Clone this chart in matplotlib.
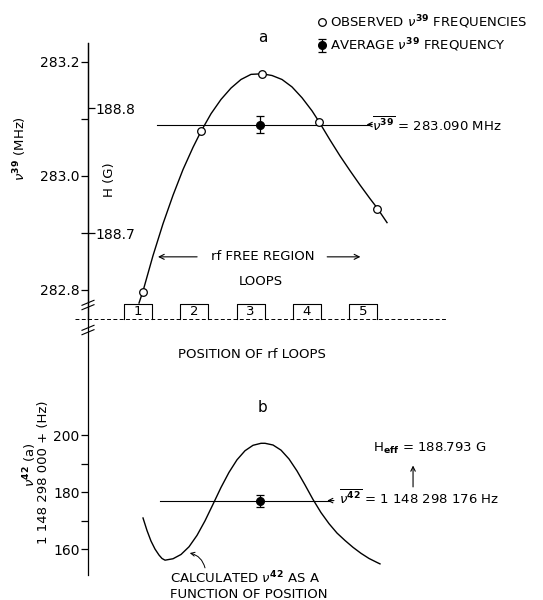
import matplotlib

matplotlib.use("Agg")
import matplotlib.pyplot as plt

plt.rcParams["font.family"] = ["DejaVu Sans"]
plt.rcParams["mathtext.fontset"] = "dejavusans"

# ---- data (position in loop-spacing units, loop n at x = n) ----
loop_pos = [1, 2, 3, 4, 5]
loop_labels = ["1", "2", "3", "4", "5"]

# panel a: observed nu39 (MHz)
obs_x = [1.09, 2.12, 3.20, 4.22, 5.25]
obs_nu39 = [282.796, 283.079, 283.179, 283.095, 282.942]
avg_x = 3.17
avg_nu39 = 283.090
avg_nu39_err = 0.015

# smooth curve through observed points
curve_a_x = [1.018, 1.089, 1.266, 1.444, 1.622, 1.799, 1.977, 2.119, 2.297,
             2.474, 2.652, 2.829, 3.007, 3.202, 3.380, 3.558, 3.735, 3.913,
             4.091, 4.215, 4.410, 4.588, 4.766, 4.943, 5.121, 5.245, 5.423]
curve_a_y = [282.777, 282.798, 282.860, 282.916, 282.966, 283.011, 283.050,
             283.078, 283.109, 283.134, 283.154, 283.169, 283.178, 283.179,
             283.176, 283.169, 283.156, 283.137, 283.114, 283.095, 283.063,
             283.035, 283.009, 282.984, 282.960, 282.944, 282.918]

# panel b: calculated nu42 (Hz, offset from 1 148 298 000)
curve_b_x = [1.089, 1.160, 1.231, 1.302, 1.373, 1.426, 1.480, 1.622, 1.764,
             1.906, 2.048, 2.190, 2.332, 2.474, 2.616, 2.758, 2.901, 3.043,
             3.185, 3.256, 3.398, 3.540, 3.682, 3.824, 3.966, 4.108, 4.250,
             4.393, 4.535, 4.677, 4.819, 4.961, 5.103, 5.245, 5.298]
curve_b_y = [170.9, 166.5, 162.8, 160.0, 157.9, 156.7, 156.1, 156.6, 158.1,
             160.8, 164.8, 169.9, 175.7, 181.6, 186.9, 191.3, 194.5, 196.4,
             197.1, 197.1, 196.5, 194.7, 191.6, 187.4, 182.5, 177.4, 172.8,
             168.9, 165.6, 163.0, 160.6, 158.5, 156.7, 155.3, 154.8]
avg_nu42 = 177.0
avg_nu42_err = 2.1

# H axis calibration (G) against nu39 (MHz)
h_ticks = [188.7, 188.8]
h_tick_nu = [282.8995, 283.1188]

# ---- figure ----
W, H = 543, 600
fig = plt.figure(figsize=(W / 100, H / 100), dpi=100)
x_lim = (0.112, 6.719)
ax_a = fig.add_axes([88 / W, 1 - 319 / H, 372 / W, 276 / H])
ax_b = fig.add_axes([88 / W, 1 - 575 / H, 372 / W, 256 / H])

for ax in (ax_a, ax_b):
    ax.set_xlim(*x_lim)
    for s in ("top", "right", "bottom"):
        ax.spines[s].set_visible(False)
    ax.spines["left"].set_linewidth(0.9)
    ax.set_xticks([])
    ax.tick_params(axis="y", which="both", direction="out", length=5,
                   width=0.9, pad=1, labelsize=10)
    ax.patch.set_alpha(0)

lw = 1.0
fs = 9.5

# panel a
ax_a.set_ylim(282.749, 283.233)
ax_a.set_yticks([282.8, 283.0, 283.2])
ax_a.set_yticklabels(["282.8", "283.0", "283.2"])
ax_a.set_yticks([282.9, 283.1], minor=True)
ax_a.plot(curve_a_x, curve_a_y, color="black", lw=lw)
obs_line, = ax_a.plot(obs_x, obs_nu39, "o", ms=5.5, mfc="white", mec="black",
                      mew=0.9, zorder=4, label=r"OBSERVED $\nu^{\mathbf{39}}$ FREQUENCIES")
avg_cont = ax_a.errorbar([avg_x], [avg_nu39], yerr=[avg_nu39_err], fmt="o", ms=5.5,
                         color="black", capsize=3, elinewidth=0.9, capthick=0.9,
                         zorder=5, label=r"AVERAGE $\nu^{\mathbf{39}}$ FREQUENCY")
ax_a.plot([1.337, 5.10], [avg_nu39, avg_nu39], color="black", lw=0.8)
ax_a.annotate("", xy=(5.06, avg_nu39), xytext=(5.16, avg_nu39),
              arrowprops=dict(arrowstyle="->", lw=0.8, color="black",
                              shrinkA=0, shrinkB=0, mutation_scale=8))
ax_a.text(5.16, avg_nu39, r"$\overline{\nu^{\mathbf{39}}}$ = 283.090 MHz",
          fontsize=fs, va="center", ha="left")

# secondary H axis drawn on the same spine, ticks pointing right
ax_h = ax_a.twinx()
b_h = (h_ticks[1] - h_ticks[0]) / (h_tick_nu[1] - h_tick_nu[0])
lo, hi = ax_a.get_ylim()
ax_h.set_ylim(h_ticks[1] + (lo - h_tick_nu[1]) * b_h,
              h_ticks[1] + (hi - h_tick_nu[1]) * b_h)
ax_h.spines["right"].set_position(("axes", 0))
for s in ("top", "left", "bottom"):
    ax_h.spines[s].set_visible(False)
ax_h.spines["right"].set_linewidth(0.9)
ax_h.set_yticks(h_ticks)
ax_h.set_yticklabels(["188.7", "188.8"])
ax_h.tick_params(axis="y", direction="out", length=5, width=0.9, pad=0,
                 labelsize=10)
ax_h.set_xlim(*x_lim)
ax_a.text((109 - 88) / 372, (319 - 180) / 276, "H (G)", transform=ax_a.transAxes,
          rotation=90, ha="center", va="center", fontsize=fs)

# loops on the dashed baseline
ax_a.plot([-0.12, 6.49], [282.749, 282.749], color="black", lw=0.7,
          ls=(0, (4, 2.5)), clip_on=False)
box_top = 282.7755
for p, lab in zip(loop_pos, loop_labels):
    ax_a.plot([p - 0.25, p - 0.25, p + 0.25, p + 0.25],
              [282.749, box_top, box_top, 282.749], color="black", lw=0.8,
              clip_on=False)
    ax_a.text(p, 282.762, lab, ha="center", va="center", fontsize=9.5)

ax_a.text(3.22, 282.858, "rf FREE REGION", ha="center", va="center", fontsize=fs)
ax_a.annotate("", xy=(1.355, 282.858), xytext=(2.05, 282.858),
              arrowprops=dict(arrowstyle="->", lw=0.8, color="black",
                              shrinkA=0, shrinkB=0, mutation_scale=9))
ax_a.annotate("", xy=(4.95, 282.858), xytext=(4.36, 282.858),
              arrowprops=dict(arrowstyle="->", lw=0.8, color="black",
                              shrinkA=0, shrinkB=0, mutation_scale=9))
ax_a.text(3.19, 282.814, "LOOPS", ha="center", va="center", fontsize=fs)
ax_a.text(3.22, 283.242, "a", ha="center", va="center", fontsize=11,
          clip_on=False)
fig.text(20 / W, 1 - 149 / H, r"$\nu^{\mathbf{39}}$ (MHz)", rotation=90,
         ha="center", va="center", fontsize=fs)

# axis break marks
for yc in (305, 330):
    for dy in (-2.2, 2.2):
        y0 = (319 - yc - dy) / 276
        ax_a.plot([-6 / 372, 6 / 372], [y0 - 2.5 / 276, y0 + 2.5 / 276],
                  transform=ax_a.transAxes, color="black", lw=0.8, clip_on=False)

leg = ax_a.legend(handles=[obs_line, avg_cont], loc="upper left",
                  bbox_to_anchor=(318 / W, 1 - 13 / H),
                  bbox_transform=fig.transFigure, frameon=False, fontsize=fs,
                  handlelength=0.6, handletextpad=0.3, labelspacing=0.45,
                  borderpad=0, borderaxespad=0)

# panel b
ax_b.set_ylim(150.9, 240.7)
ax_b.set_yticks([160, 180, 200])
ax_b.set_yticks([170, 190], minor=True)
ax_b.plot(curve_b_x, curve_b_y, color="black", lw=lw)
ax_b.errorbar([avg_x], [avg_nu42], yerr=[avg_nu42_err], fmt="o", ms=5.5,
              color="black", capsize=3, elinewidth=0.9, capthick=0.9, zorder=5)
ax_b.plot([1.39, 4.40], [avg_nu42, avg_nu42], color="black", lw=0.8)
ax_b.annotate("", xy=(4.36, avg_nu42), xytext=(4.48, avg_nu42),
              arrowprops=dict(arrowstyle="->", lw=0.8, color="black",
                              shrinkA=0, shrinkB=0, mutation_scale=8))
ax_b.text(4.57, avg_nu42 + 1.0, r"$\overline{\nu^{\mathbf{42}}}$ = 1 148 298 176 Hz",
          fontsize=fs, va="center", ha="left")
ax_b.text(5.17, 195.4, r"H$_{\mathbf{eff}}$ = 188.793 G", fontsize=fs,
          va="center", ha="left")
ax_b.annotate("", xy=(5.885, 189.3), xytext=(5.885, 181.8),
              arrowprops=dict(arrowstyle="->", lw=0.8, color="black",
                              shrinkA=0, shrinkB=0, mutation_scale=8))
ax_b.text(3.22, 209.5, "b", ha="center", va="center", fontsize=11)
ax_b.text(3.025, 228.4, "POSITION OF rf LOOPS", ha="center", va="center",
          fontsize=fs)
ax_b.text(1.57, 152.6, "CALCULATED $\\nu^{\\mathbf{42}}$ AS A\nFUNCTION OF POSITION",
          ha="left", va="top", fontsize=fs, linespacing=1.1, clip_on=False)
ax_b.annotate("", xy=(1.92, 158.6), xytext=(2.19, 153.4),
              arrowprops=dict(arrowstyle="->", lw=0.7, color="black",
                              shrinkA=0, shrinkB=0, mutation_scale=7,
                              connectionstyle="arc3,rad=0.3"))
fig.text(30 / W, 1 - 465 / H, r"$\nu^{\mathbf{42}}$ (a)", rotation=90,
         ha="center", va="center", fontsize=fs)
fig.text(44 / W, 1 - 472 / H, "1 148 298 000 + (Hz)", rotation=90,
         ha="center", va="center", fontsize=fs)

fig.savefig("out.png", dpi=100, facecolor="white")
